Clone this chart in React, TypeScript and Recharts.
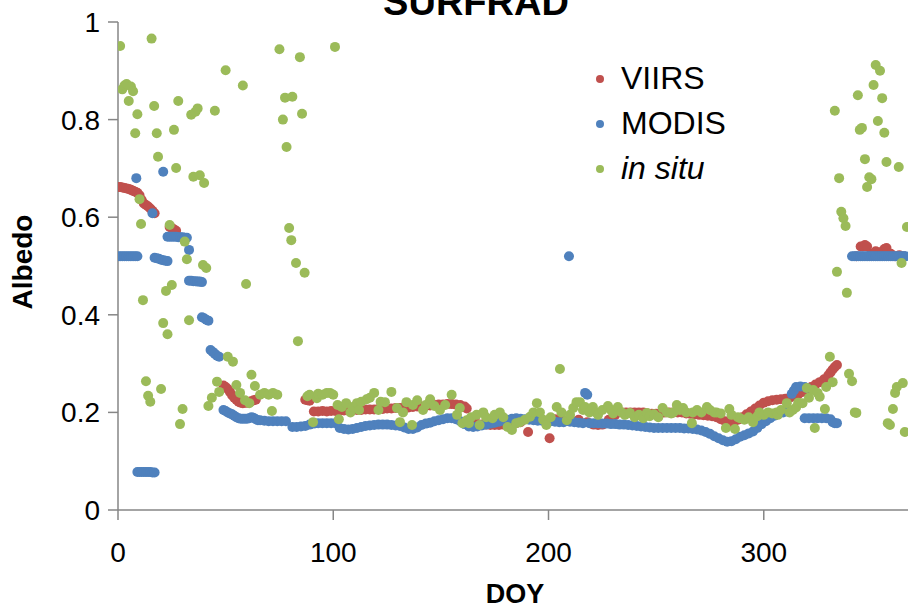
import { ScatterChart, Scatter, XAxis, YAxis, Legend } from "recharts";

// [DOY, albedo]
const viirs: [number, number][] = [
  [0, 0.662], [1, 0.662], [2, 0.661], [3, 0.66], [4, 0.659], [5, 0.658], [6, 0.656], [7, 0.654], [8, 0.652],
  [9, 0.65], [10, 0.645], [11, 0.635], [12, 0.628], [13, 0.625], [14, 0.622], [15, 0.618], [16, 0.613], [17, 0.608],
  [24, 0.58], [25, 0.578], [26, 0.575], [27, 0.572],
  [49, 0.255], [50, 0.252], [51, 0.248], [52, 0.242], [53, 0.235], [54, 0.23], [55, 0.226], [56, 0.222], [57, 0.22],
  [58, 0.219], [59, 0.22], [60, 0.22], [61, 0.222], [62, 0.223], [63, 0.225], [64, 0.226],
  [87, 0.226], [88, 0.225], [89, 0.224],
  [91, 0.202], [93, 0.202], [95, 0.203], [97, 0.202], [99, 0.203], [101, 0.203], [103, 0.204], [105, 0.204],
  [107, 0.204], [109, 0.205], [111, 0.205], [113, 0.205], [115, 0.206], [117, 0.206], [119, 0.206], [121, 0.207],
  [123, 0.207], [125, 0.208], [127, 0.208], [129, 0.209], [131, 0.209], [133, 0.21], [135, 0.21], [137, 0.211],
  [139, 0.212], [141, 0.212], [143, 0.213], [145, 0.214], [147, 0.215], [149, 0.216], [151, 0.216], [153, 0.217],
  [155, 0.217], [157, 0.216], [159, 0.215], [161, 0.212], [162, 0.208],
  [165, 0.178], [167, 0.176], [169, 0.175], [171, 0.175], [173, 0.174], [175, 0.174], [177, 0.174], [179, 0.175],
  [181, 0.176], [183, 0.177], [185, 0.178], [187, 0.18],
  [190.5, 0.16], [200.5, 0.147],
  [193, 0.186], [196, 0.185], [203, 0.186], [206, 0.187], [210, 0.186], [214, 0.185], [218, 0.18], [221, 0.175],
  [223, 0.174], [225, 0.175], [228, 0.185], [231, 0.195], [234, 0.2], [236, 0.2], [238, 0.2], [240, 0.2], [242, 0.2],
  [244, 0.2], [246, 0.198], [248, 0.197], [250, 0.197], [252, 0.198], [254, 0.2], [256, 0.2], [258, 0.2], [260, 0.2],
  [262, 0.2], [264, 0.198], [266, 0.197], [268, 0.196], [270, 0.195], [272, 0.194], [274, 0.193], [276, 0.192],
  [278, 0.19], [280, 0.186], [282, 0.182], [284, 0.179], [286, 0.18], [288, 0.185], [290, 0.19], [292, 0.196],
  [294, 0.202], [296, 0.208], [298, 0.214], [300, 0.22], [302, 0.223], [304, 0.225], [306, 0.226], [308, 0.227],
  [310, 0.228], [312, 0.23], [314, 0.233], [316, 0.237], [318, 0.242], [320, 0.248], [322, 0.252], [324, 0.257],
  [326, 0.262], [328, 0.268], [330, 0.276], [331, 0.282], [332, 0.288], [333, 0.293], [334, 0.297],
  [343, 0.52], [345, 0.54], [346, 0.54], [347, 0.543], [348, 0.54], [350, 0.525], [352, 0.53], [354, 0.528],
  [356, 0.535], [357, 0.537], [359, 0.525], [361, 0.52], [363, 0.522], [365, 0.52],
];

const modis: [number, number][] = [
  [0, 0.52], [1, 0.52], [2, 0.52], [3, 0.52], [4, 0.52], [5, 0.52], [6, 0.52], [7, 0.52], [8, 0.52], [9, 0.52],
  [8.5, 0.68],
  [9, 0.078], [10, 0.078], [11, 0.078], [12, 0.078], [13, 0.078], [14, 0.078], [15, 0.078], [16, 0.077], [17, 0.077],
  [16, 0.608],
  [17, 0.517], [18, 0.516], [19, 0.515], [20, 0.513], [21, 0.512], [22, 0.511], [23, 0.51],
  [21, 0.693],
  [23, 0.56], [24, 0.56], [25, 0.56], [26, 0.56], [27, 0.56], [28, 0.559], [29, 0.559], [30, 0.559], [31, 0.558], [32, 0.558],
  [33, 0.533],
  [33, 0.47], [34, 0.47], [35, 0.469], [36, 0.469], [37, 0.468], [38, 0.468], [39, 0.467],
  [39, 0.395], [40, 0.393], [41, 0.39], [42, 0.388],
  [43, 0.328], [44, 0.324], [45, 0.32], [46, 0.316], [47, 0.314],
  [49, 0.205], [50, 0.203], [51, 0.2], [52, 0.198], [53, 0.196], [54, 0.193], [55, 0.19], [56, 0.188], [57, 0.187],
  [58, 0.187], [59, 0.187], [60, 0.187], [61, 0.188], [62, 0.19], [63, 0.189], [64, 0.186], [65, 0.184],
  [66, 0.184], [68, 0.183], [70, 0.182], [72, 0.182], [74, 0.182], [76, 0.182], [78, 0.182],
  [81, 0.17], [83, 0.17], [85, 0.171], [87, 0.172], [89, 0.175], [91, 0.177], [93, 0.178], [95, 0.178], [97, 0.178],
  [99, 0.178], [101, 0.178], [103, 0.168], [105, 0.166], [107, 0.165], [109, 0.166], [111, 0.168], [113, 0.17],
  [115, 0.172], [117, 0.173], [119, 0.174], [121, 0.175], [123, 0.175], [125, 0.175], [127, 0.174], [129, 0.173],
  [131, 0.172], [133, 0.169], [135, 0.166], [137, 0.166], [139, 0.169], [141, 0.174], [143, 0.177], [145, 0.179],
  [147, 0.182], [149, 0.184], [151, 0.186], [153, 0.188], [155, 0.188], [157, 0.186], [159, 0.182], [161, 0.176],
  [163, 0.171], [165, 0.17], [167, 0.171], [169, 0.173], [171, 0.175], [173, 0.177], [175, 0.179], [177, 0.181],
  [179, 0.183], [181, 0.185], [183, 0.187], [185, 0.188], [187, 0.187], [189, 0.186], [191, 0.185], [193, 0.184],
  [195, 0.183], [197, 0.183], [199, 0.182], [201, 0.182], [203, 0.181], [205, 0.18], [207, 0.18],
  [209.5, 0.52],
  [210, 0.181], [212, 0.18], [214, 0.179], [216, 0.178], [217, 0.24], [218, 0.236], [219, 0.178], [221, 0.178],
  [223, 0.178], [225, 0.177], [227, 0.177], [229, 0.176], [231, 0.176], [233, 0.175], [235, 0.175], [237, 0.174],
  [239, 0.173], [241, 0.172], [243, 0.171], [245, 0.17], [247, 0.169], [249, 0.168], [251, 0.168], [253, 0.168],
  [255, 0.168], [257, 0.168], [259, 0.168], [261, 0.168], [263, 0.167], [265, 0.167], [267, 0.166], [269, 0.165],
  [271, 0.163], [273, 0.16], [275, 0.156], [277, 0.151], [279, 0.147], [281, 0.143], [283, 0.14], [285, 0.141],
  [287, 0.145], [289, 0.15], [291, 0.153], [293, 0.157], [295, 0.161], [297, 0.168], [299, 0.176], [301, 0.182],
  [303, 0.188], [305, 0.193], [307, 0.198], [309, 0.2], [311, 0.202],
  [313, 0.238], [314, 0.245], [315, 0.252], [317, 0.253], [319, 0.252], [320, 0.25],
  [319, 0.188], [321, 0.188], [323, 0.188], [325, 0.188], [327, 0.188], [329, 0.188], [331, 0.186], [332, 0.18],
  [333, 0.178], [334, 0.178],
  [341, 0.52], [342, 0.52], [343, 0.52], [344, 0.52], [345, 0.52], [346, 0.52], [347, 0.52], [348, 0.52], [349, 0.52],
  [350, 0.52], [351, 0.52], [352, 0.52], [353, 0.52], [354, 0.52], [355, 0.52], [356, 0.52], [357, 0.52], [358, 0.52],
  [359, 0.52], [360, 0.52], [361, 0.52], [362, 0.52], [363, 0.52], [364, 0.52], [365, 0.52], [366, 0.52],
];

const inSitu: [number, number][] = [
  [1, 0.951], [2, 0.862], [3, 0.87], [4, 0.873], [5, 0.838], [6, 0.868], [7, 0.858], [8, 0.772], [9, 0.811],
  [10, 0.637], [10.7, 0.586], [11.6, 0.43], [13, 0.264], [14, 0.234], [15, 0.222], [15.6, 0.966], [16.8, 0.828],
  [18, 0.772], [18.6, 0.724], [20, 0.248], [21, 0.383], [22.3, 0.449], [23, 0.36], [24, 0.584], [25, 0.461],
  [26, 0.779], [27, 0.701], [28, 0.838], [28.8, 0.176], [30, 0.207], [31, 0.55], [32, 0.514], [33, 0.389],
  [34, 0.81], [35, 0.683], [36, 0.816], [37, 0.823], [38, 0.686], [39.5, 0.502], [40, 0.67], [41, 0.496],
  [42, 0.213], [43.6, 0.23], [45, 0.818], [46, 0.263], [47, 0.242], [50, 0.901], [51, 0.314], [53.4, 0.304],
  [55, 0.256], [56.7, 0.24], [58, 0.87], [59, 0.225], [59.5, 0.463], [61, 0.219], [62, 0.277], [63.6, 0.254],
  [66, 0.236], [68, 0.24], [70, 0.236], [71.5, 0.203], [72, 0.24], [74, 0.236], [75, 0.944], [76.6, 0.8],
  [77.6, 0.845], [78.3, 0.744], [79.5, 0.578], [80.5, 0.553], [81, 0.847], [82.7, 0.506], [83.6, 0.346],
  [84.5, 0.928], [85.5, 0.812], [86.7, 0.486], [88, 0.233], [89, 0.236], [90.6, 0.18], [92.4, 0.229], [93, 0.238],
  [95, 0.236], [97, 0.24], [98.5, 0.24], [100, 0.236], [100.8, 0.949], [102, 0.215], [102.6, 0.186], [104, 0.211],
  [106, 0.219], [108, 0.2], [109, 0.211], [111, 0.219], [112, 0.205], [113, 0.222], [115.5, 0.227], [117, 0.23],
  [119, 0.24], [121, 0.205], [122, 0.222], [124, 0.221], [127, 0.242], [129.6, 0.209], [131, 0.18], [132.4, 0.2],
  [134, 0.221], [136.6, 0.174], [137, 0.215], [139, 0.225], [141.7, 0.205], [143, 0.215], [145, 0.227],
  [147, 0.213], [149.6, 0.205], [152, 0.215], [155, 0.236], [157.5, 0.195], [158.8, 0.209], [160, 0.178],
  [162, 0.184], [163, 0.178], [164, 0.19], [166.6, 0.195], [168, 0.174], [169.7, 0.2], [171, 0.19], [174, 0.188],
  [175, 0.195], [177.4, 0.2], [179, 0.19], [181, 0.17], [183, 0.164], [185, 0.178], [186.7, 0.18], [189, 0.185],
  [191.4, 0.191], [193, 0.2], [194.6, 0.219], [196, 0.2], [197.5, 0.185], [199, 0.174], [201, 0.19], [203.8, 0.211],
  [205.3, 0.289], [206, 0.2], [208.5, 0.184], [210, 0.195], [211.5, 0.209], [213, 0.221], [214.6, 0.221],
  [216, 0.205], [217, 0.211], [219, 0.2], [220.6, 0.211], [222, 0.2], [223, 0.195], [225, 0.205], [227.6, 0.213],
  [229, 0.205], [230, 0.198], [232.2, 0.211], [234, 0.2], [235.5, 0.195], [237.8, 0.199], [240, 0.19],
  [242, 0.195], [244, 0.188], [245.7, 0.199], [247, 0.192], [249, 0.196], [251, 0.19], [253, 0.209], [255, 0.2],
  [257, 0.198], [258, 0.2], [259.6, 0.215], [261, 0.205], [262.5, 0.209], [264, 0.2], [266.6, 0.178], [267, 0.2],
  [269, 0.205], [271, 0.2], [273.6, 0.211], [275, 0.205], [277, 0.2], [278, 0.2], [280, 0.198], [282.4, 0.168],
  [284, 0.207], [285, 0.195], [286.6, 0.166], [288, 0.19], [289, 0.188], [291, 0.185], [293, 0.19], [295, 0.18],
  [297, 0.192], [298, 0.2], [300, 0.195], [302, 0.2], [304, 0.198], [306, 0.2], [306.5, 0.195], [308, 0.205],
  [310.7, 0.219], [312, 0.2], [313.5, 0.205], [315, 0.21], [316, 0.22], [318, 0.219], [320, 0.25], [321, 0.23],
  [323, 0.246], [323.7, 0.168], [325, 0.24], [326, 0.232], [328.4, 0.207], [329, 0.252], [330.7, 0.314],
  [332, 0.262], [333, 0.818], [334, 0.488], [335, 0.68], [336, 0.611], [337, 0.598], [338, 0.582], [338.6, 0.445],
  [339.6, 0.279], [341, 0.264], [342.3, 0.2], [343, 0.199], [343.7, 0.85], [344.6, 0.779], [345.6, 0.783],
  [347, 0.719], [348, 0.662], [349, 0.682], [350, 0.678], [351, 0.871], [352, 0.912], [353, 0.797], [354, 0.9],
  [355, 0.844], [356, 0.773], [357, 0.713], [357.6, 0.178], [358.6, 0.174], [360, 0.207], [361, 0.24],
  [361.8, 0.252], [362.7, 0.703], [364, 0.506], [364.6, 0.26], [365.5, 0.16], [366.5, 0.58],
];

const xTicks = [0, 100, 200, 300];
const yTicks = [0, 0.2, 0.4, 0.6, 0.8, 1];

const font = '"Liberation Sans", Arial, sans-serif';
const axisGrey = "#868686";

const seriesList = [
  { name: "VIIRS", color: "#C0504D", rows: viirs, italic: false },
  { name: "MODIS", color: "#4F81BD", rows: modis, italic: false },
  { name: "in situ", color: "#9BBB59", rows: inSitu, italic: true },
];

const toPoints = (rows: [number, number][]) => rows.map(([x, y]) => ({ x, y }));

function LegendBox() {
  return (
    <div style={{ fontFamily: font, fontSize: 32, color: "#000" }}>
      {seriesList.map((s) => (
        <div key={s.name} style={{ display: "flex", alignItems: "center", height: 45 }}>
          <span style={{ display: "inline-block", width: 8, height: 8, borderRadius: "50%", background: s.color, marginLeft: 4 }} />
          <span style={{ marginLeft: 17, fontStyle: s.italic ? "italic" : "normal" }}>{s.name}</span>
        </div>
      ))}
    </div>
  );
}

export default function App() {
  return (
    <div style={{ position: "fixed", left: 0, top: 0, width: 908, height: 608, overflow: "hidden", background: "#fff" }}>
      <div style={{ position: "absolute", left: 376, top: -17, width: 200, textAlign: "center", fontFamily: font,
        fontSize: 38, fontWeight: "bold", lineHeight: "38px", zIndex: 2 }}>SURFRAD</div>
      <ScatterChart width={908} height={608} margin={{ top: 22, right: 0, bottom: 0, left: 0 }}>
        <XAxis type="number" dataKey="x" domain={[0, 367]} ticks={xTicks} allowDataOverflow height={98}
          tickSize={10} tickMargin={22} axisLine={{ stroke: axisGrey, strokeWidth: 1.5 }}
          tickLine={{ stroke: axisGrey, strokeWidth: 1.5 }} tick={{ fill: "#000", fontSize: 28, fontFamily: font }}
          label={{ content: () => (
            <text x={515} y={603} textAnchor="middle" fontFamily={font} fontSize={27} fontWeight="bold" fill="#000">DOY</text>
          ) }} />
        <YAxis type="number" dataKey="y" domain={[0, 1]} ticks={yTicks} width={118}
          tickSize={10} tickMargin={8} axisLine={{ stroke: axisGrey, strokeWidth: 1.5 }}
          tickLine={{ stroke: axisGrey, strokeWidth: 1.5 }} tick={{ fill: "#000", fontSize: 28, fontFamily: font }}
          label={{ content: () => (
            <text x={32} y={262} transform="rotate(-90 32 262)" textAnchor="middle" fontFamily={font} fontSize={28}
              fontWeight="bold" fill="#000">Albedo</text>
          ) }} />
        <Legend layout="vertical" align="center" verticalAlign="middle" content={() => <LegendBox />}
          wrapperStyle={{ left: 592, top: 56, width: 220 }} />
        {seriesList.map((s) => (
          <Scatter key={s.name} name={s.name} data={toPoints(s.rows)} fill={s.color} isAnimationActive={false}
            shape={(p: any) => <circle cx={p.cx} cy={p.cy} r={5} fill={s.color} />} />
        ))}
      </ScatterChart>
    </div>
  );
}
